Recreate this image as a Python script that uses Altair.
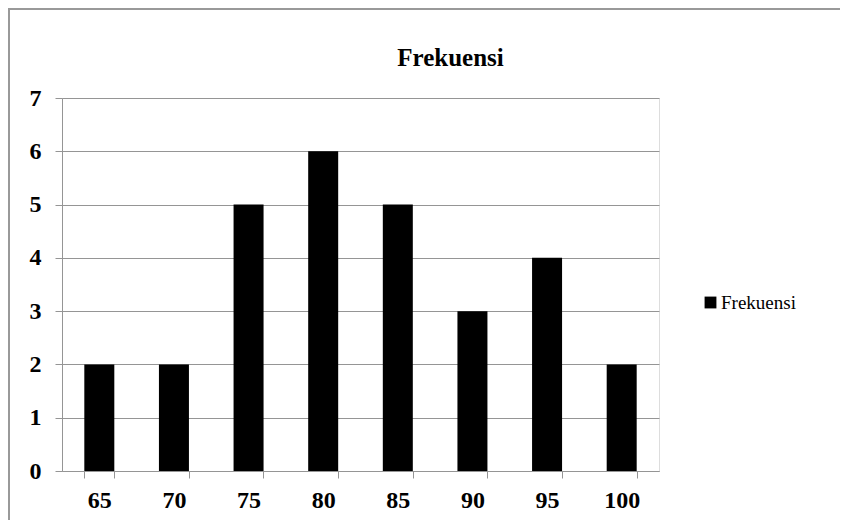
import altair as alt
import pandas as pd

categories = ["65", "70", "75", "80", "85", "90", "95", "100"]
values = [2, 2, 5, 6, 5, 3, 4, 2]
series_name = "Frekuensi"

df = pd.DataFrame({"nilai": categories, "frek": values, "series": series_name})

FONT = "'Liberation Serif', 'Times New Roman', 'DejaVu Serif', serif"
GRAY = "#959595"

bars = alt.Chart(df).mark_bar(size=30).encode(
    x=alt.X("nilai:N", sort=categories, title=None,
            scale=alt.Scale(paddingInner=0.6, paddingOuter=0.3),
            axis=alt.Axis(labelAngle=0, labelFont=FONT, labelFontSize=24, labelFontWeight="bold",
                          labelColor="black", domainColor=GRAY, tickColor=GRAY, tickSize=7,
                          tickBand="extent", labelPadding=10, grid=False)),
    y=alt.Y("frek:Q", title=None,
            scale=alt.Scale(domain=[0, 7], nice=False),
            axis=alt.Axis(values=list(range(0, 8)), labelFont=FONT, labelFontSize=24,
                          labelFontWeight="bold", labelColor="black", domainColor=GRAY,
                          tickColor=GRAY, tickSize=7, gridColor=GRAY, labelPadding=14)),
    color=alt.Color("series:N", scale=alt.Scale(range=["black"]),
                    legend=alt.Legend(title=None, orient="none", legendX=639, legendY=195,
                                      symbolType="square", symbolSize=140, symbolStrokeWidth=0,
                                      labelFont=FONT, labelFontSize=19, labelColor="black",
                                      labelOffset=1)),
)

border = alt.Chart(df).mark_rect(fill=None, stroke="#999999", strokeWidth=2, clip=False).encode(
    x=alt.value(-53), x2=alt.value(900), y=alt.value(-89), y2=alt.value(600)
)

chart = alt.layer(border, bars).properties(
    width=597, height=373,
    title=alt.TitleParams("Frekuensi", font=FONT, fontSize=25, fontWeight="bold",
                          anchor="middle", dx=90, offset=-63, color="black"),
    padding={"left": 54, "top": 90, "right": 181, "bottom": 49},
    autosize=alt.AutoSizeParams(type="none"),
).configure_view(stroke=None).configure(background="white")

chart.save("out.html", embed_options={"renderer": "svg", "actions": False})
